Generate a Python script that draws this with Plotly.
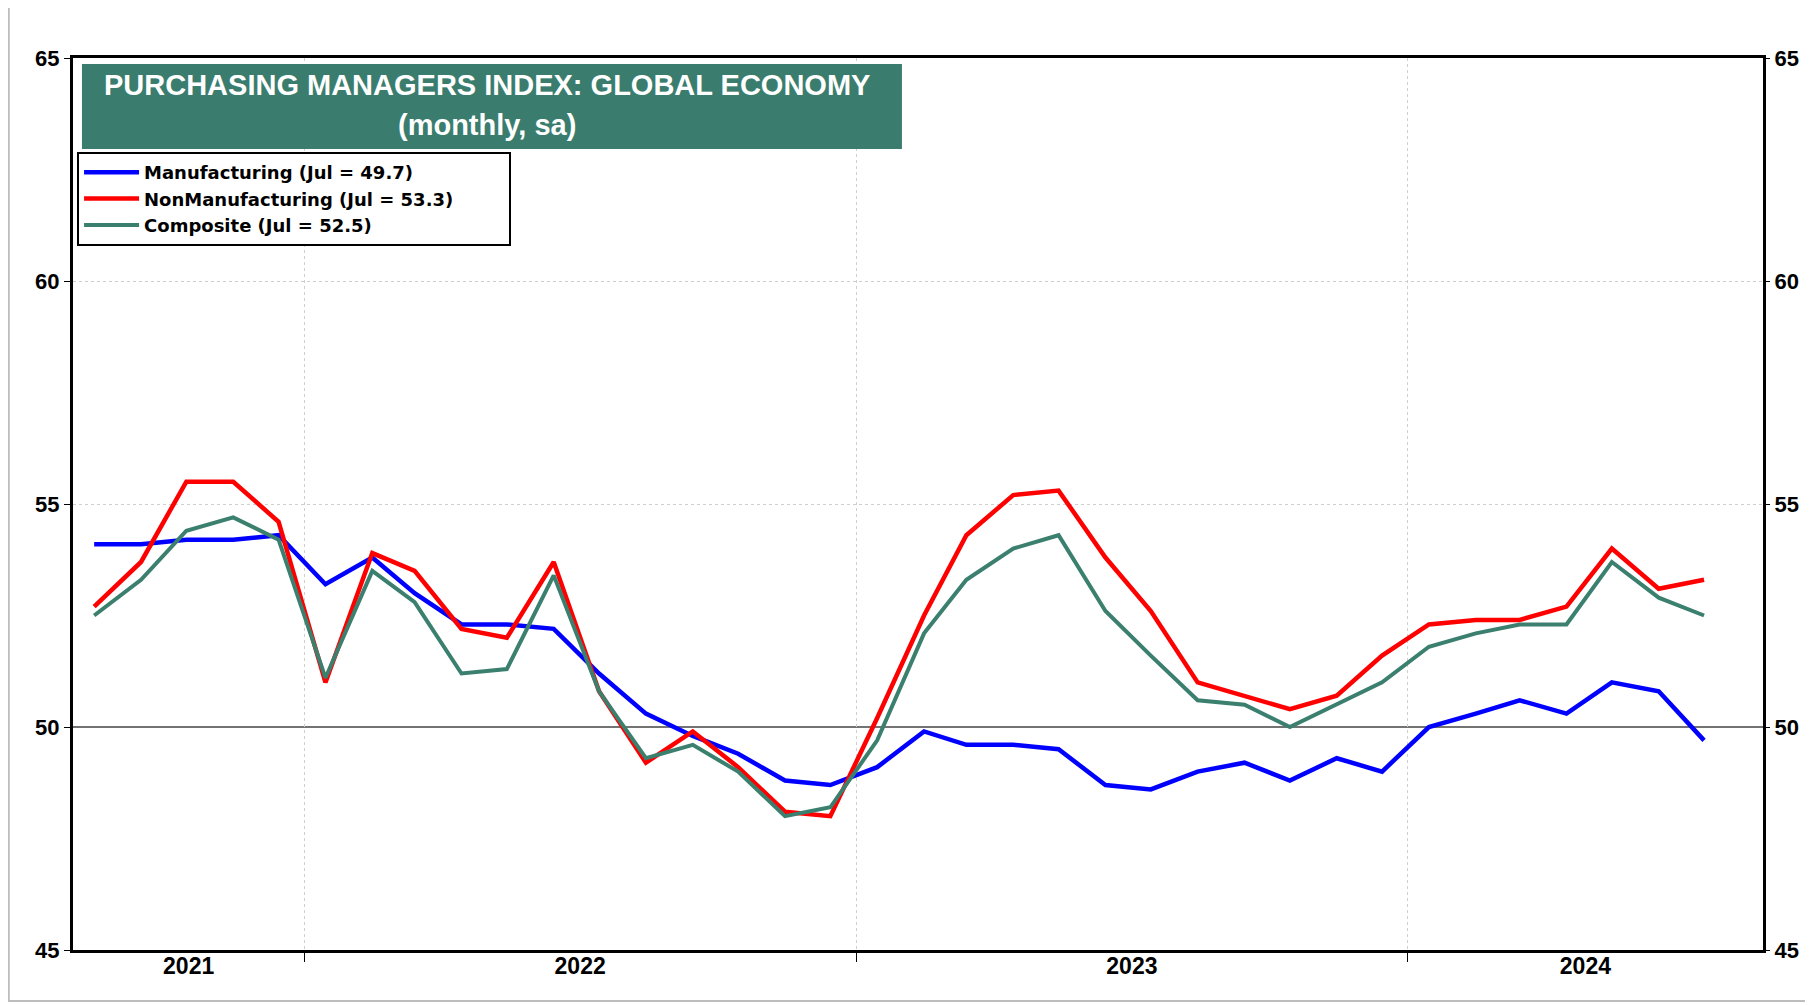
"""Global PMI chart: manufacturing, non-manufacturing and composite."""
import pandas as pd
import plotly.graph_objects as go

months = pd.date_range("2021-08-01", "2024-07-01", freq="MS") + pd.Timedelta(days=14)

manufacturing = [
    54.1, 54.1, 54.2, 54.2, 54.3,
    53.2, 53.8, 53.0, 52.3, 52.3, 52.2, 51.2, 50.3, 49.8, 49.4, 48.8, 48.7,
    49.1, 49.9, 49.6, 49.6, 49.5, 48.7, 48.6, 49.0, 49.2, 48.8, 49.3, 49.0,
    50.0, 50.3, 50.6, 50.3, 51.0, 50.8, 49.7,
]
non_manufacturing = [
    52.7, 53.7, 55.5, 55.5, 54.6,
    51.0, 53.9, 53.5, 52.2, 52.0, 53.7, 50.8, 49.2, 49.9, 49.1, 48.1, 48.0,
    50.2, 52.5, 54.3, 55.2, 55.3, 53.8, 52.6, 51.0, 50.7, 50.4, 50.7, 51.6,
    52.3, 52.4, 52.4, 52.7, 54.0, 53.1, 53.3,
]
composite = [
    52.5, 53.3, 54.4, 54.7, 54.2,
    51.1, 53.5, 52.8, 51.2, 51.3, 53.4, 50.8, 49.3, 49.6, 49.0, 48.0, 48.2,
    49.7, 52.1, 53.3, 54.0, 54.3, 52.6, 51.6, 50.6, 50.5, 50.0, 50.5, 51.0,
    51.8, 52.1, 52.3, 52.3, 53.7, 52.9, 52.5,
]

x_start = pd.Timestamp("2021-08-01")
x_end = pd.Timestamp("2024-08-23")
years = [2021, 2022, 2023, 2024]
y_ticks = [45, 50, 55, 60, 65]
y_dotted = [55, 60]

TEAL = "#3b7f6f"
SANS = "Liberation Sans, Arial, sans-serif"
PAD = "\u00a0" * 8  # legend box is wider than its text

# year labels sit in the middle of the visible part of each year
year_mids = []
for y in years:
    a = max(x_start, pd.Timestamp(f"{y}-01-01"))
    b = min(x_end, pd.Timestamp(f"{y + 1}-01-01"))
    year_mids.append(a + (b - a) / 2)
year_bounds = [pd.Timestamp(f"{y}-01-01") for y in years[1:]]

fig = go.Figure()
fig.add_trace(go.Scatter(x=months, y=manufacturing, mode="lines", name="Manufacturing (Jul = 49.7)" + PAD,
                         line=dict(color="#0000ff", width=4.5)))
fig.add_trace(go.Scatter(x=months, y=non_manufacturing, mode="lines", name="NonManufacturing (Jul = 53.3)" + PAD,
                         line=dict(color="#ff0000", width=4.5)))
fig.add_trace(go.Scatter(x=months, y=composite, mode="lines", name="Composite (Jul = 52.5)" + PAD,
                         line=dict(color=TEAL, width=4)))
# invisible trace so the secondary axes (year labels, right tick labels) render
fig.add_trace(go.Scatter(x=months, y=composite, xaxis="x2", yaxis="y2", mode="lines",
                         line=dict(width=0), opacity=0, showlegend=False, hoverinfo="skip"))

fig.add_hline(y=50, line=dict(color="#444444", width=1.5), layer="below")

# outer frame of the picture
fig.add_shape(type="rect", xref="paper", yref="paper", x0=-0.038, x1=1.0284, y0=-0.0572, y1=1.0583,
              line=dict(color="#bdbdbd", width=2), layer="below")
# title box
fig.add_shape(type="rect", xref="paper", yref="paper", x0=0.0053, x1=0.4905, y0=0.898, y1=0.9933,
              line=dict(width=0), fillcolor="#3a7d6e")
fig.add_annotation(text="PURCHASING MANAGERS INDEX: GLOBAL ECONOMY", xref="paper", yref="paper",
                   x=0.245, y=0.9697, xanchor="center", yanchor="middle", showarrow=False,
                   font=dict(family=SANS, size=29, color="white", weight="bold"))
fig.add_annotation(text="(monthly, sa)", xref="paper", yref="paper", x=0.245, y=0.9249,
                   xanchor="center", yanchor="middle", showarrow=False,
                   font=dict(family=SANS, size=29, color="white", weight="bold"))

fig.update_layout(
    width=1813, height=1005,
    margin=dict(l=65, r=58, t=50, b=63),
    paper_bgcolor="white", plot_bgcolor="white",
    showlegend=True,
    legend=dict(x=0.0024, y=0.8946, xanchor="left", yanchor="top", bgcolor="white",
                bordercolor="black", borderwidth=2, tracegroupgap=0, itemwidth=55,
                font=dict(family="DejaVu Sans, Verdana, sans-serif", size=18, color="black", weight="bold")),
    xaxis=dict(
        type="date", range=[x_start, x_end], tickvals=year_bounds, showticklabels=False,
        ticks="outside", ticklen=9, tickcolor="black", tickwidth=1,
        showgrid=True, gridcolor="#cfcfcf", griddash="dot", gridwidth=1,
        showline=True, linecolor="black", linewidth=3, mirror=True, zeroline=False,
    ),
    xaxis2=dict(
        type="date", range=[x_start, x_end], overlaying="x", side="bottom", tickvals=year_mids,
        ticktext=[str(y) for y in years], ticks="", showgrid=False, showline=False, zeroline=False,
        tickfont=dict(family=SANS, size=23, color="black", weight="bold"),
    ),
    yaxis=dict(
        range=[45, 65], tickvals=y_ticks, ticks="outside", ticklen=6, tickcolor="black",
        showgrid=False,
        minor=dict(tickvals=y_dotted, ticks="", showgrid=True, gridcolor="#cfcfcf", griddash="dot", gridwidth=1),
        showline=True, linecolor="black", linewidth=3, mirror=True, zeroline=False,
        tickfont=dict(family=SANS, size=22, color="black", weight="bold"),
    ),
    yaxis2=dict(
        range=[45, 65], tickvals=y_ticks, overlaying="y", side="right",
        ticks="outside", ticklen=6, tickcolor="black", showgrid=False, showline=False, zeroline=False,
        tickfont=dict(family=SANS, size=22, color="black", weight="bold"),
    ),
)

fig.write_html("out.html")
